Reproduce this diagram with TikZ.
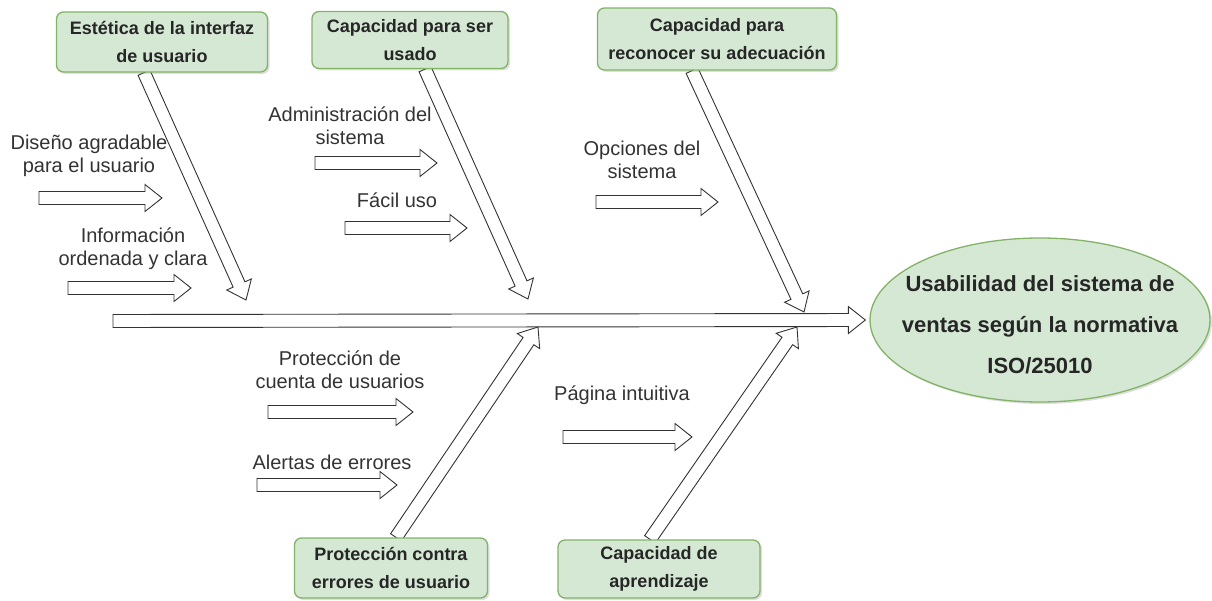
\documentclass[tikz,border=0pt]{standalone}
\usepackage{fontspec}
\setmainfont{Liberation Sans}
\usetikzlibrary{calc,shapes.geometric,shadows,backgrounds}
\definecolor{boxfill}{HTML}{D5E8D4}
\definecolor{boxline}{HTML}{82B366}
\definecolor{ink}{HTML}{333333}
\newcommand{\hollowarrow}[2]{%
  \coordinate (hb) at ($(#2)!17pt!(#1)$);
  \draw[flex] ($(#1)!6.5pt!90:(#2)$)--($(hb)!6.5pt!-90:(#1)$)--($(hb)!13.5pt!-90:(#1)$)--(#2)
    --($(hb)!13.5pt!90:(#1)$)--($(hb)!6.5pt!90:(#1)$)--($(#1)!6.5pt!-90:(#2)$)--cycle;
}
\begin{document}
\begin{tikzpicture}[x=1pt, y=-1pt,
    flex/.style={draw=ink, line width=0.9pt, fill=white, line join=miter},
    cause/.style={draw=boxline, line width=1.3pt, fill=boxfill, rounded corners=7pt, align=center,
        font=\fontsize{18}{28}\selectfont\bfseries, text=black!85,
        drop shadow={opacity=0.25, shadow xshift=2pt, shadow yshift=-2pt}},
    txt/.style={align=center, text=ink, font=\fontsize{20}{23}\selectfont}]
\useasboundingbox (0,0) rectangle (1212,601);

\node[cause, minimum width=211pt, minimum height=60pt] (b1) at (162,42) {Estética de la interfaz\\de usuario};
\node[cause, minimum width=196pt, minimum height=57pt] (b2) at (410,40) {Capacidad para ser\\usado};
\node[cause, minimum width=239pt, minimum height=62pt] (b3) at (717,39) {Capacidad para\\reconocer su adecuación};
\node[cause, minimum width=193pt, minimum height=60pt] (b4) at (391,568) {Protección contra\\errores de usuario};
\node[cause, minimum width=202pt, minimum height=58pt] (b5) at (659,569) {Capacidad de\\aprendizaje};

\node[ellipse, draw=boxline, line width=1.3pt, fill=boxfill, minimum width=340pt, minimum height=164pt,
    drop shadow={opacity=0.25, shadow xshift=2pt, shadow yshift=-2pt}] (goal) at (1040,320) {};
\node[align=center, text=black!85, font=\fontsize{22}{41}\selectfont\bfseries] (goaltext)
    at ([yshift=-5pt]goal) {Usabilidad del sistema de\\ventas según la normativa\\ISO/25010};

\coordinate (tail) at (113,321);
\coordinate (t1) at (246,300);
\coordinate (t2) at (528,299);
\coordinate (t3) at (804,312);
\coordinate (t4) at (538,327);
\coordinate (t5) at (797,327);

\begin{scope}[on background layer]
\hollowarrow{tail}{[xshift=-4pt]goal.west}
\hollowarrow{[xshift=-18pt]b1.south}{t1}
\hollowarrow{[xshift=15pt]b2.south}{t2}
\hollowarrow{[xshift=-25pt]b3.south}{t3}
\hollowarrow{[xshift=5pt]b4.north}{t4}
\hollowarrow{[xshift=-9pt]b5.north}{t5}
\end{scope}

\foreach \n/\xa/\xb/\y in {a1/39/162/198, a2/68/191/288, a3/315/437/163, a4/345/467/228,
    a5/596/718/202, a6/268/413/412, a7/257/397/485, a8/563/692/437}
{
    \coordinate (\n s) at (\xa,\y);
    \coordinate (\n e) at (\xb,\y);
    \hollowarrow{\n s}{\n e}
}

\node[txt] (l1) at (89,156) {Diseño agradable\\para el usuario};
\node[txt] (l2) at (133,249) {Información\\ordenada y clara};
\node[txt] (l3) at (350,126) {Administración del\\sistema};
\node[txt] (l4) at (397,200) {Fácil uso};
\node[txt] (l5) at (642,160) {Opciones del\\sistema};
\node[txt] (l6) at (340,370) {Protección de\\cuenta de usuarios};
\node[txt] (l7) at (332,462) {Alertas de errores};
\node[txt] (l8) at (622,395) {Página intuitiva};
\end{tikzpicture}
\end{document}
